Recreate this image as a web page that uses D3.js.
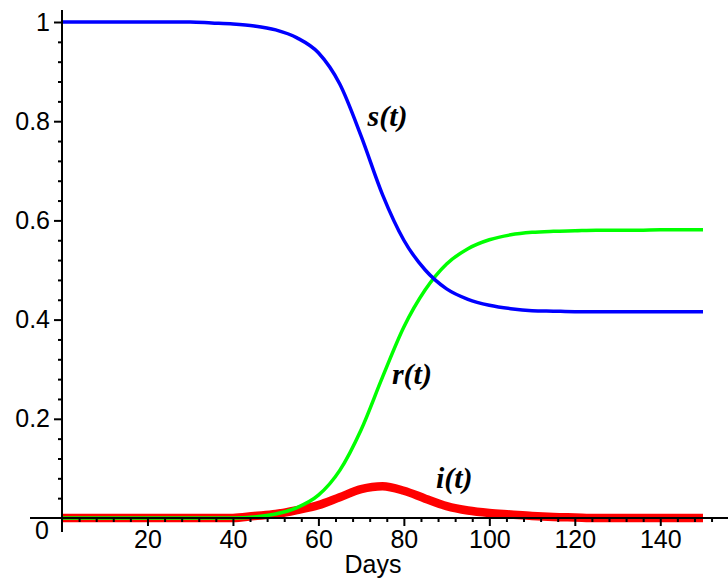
<!DOCTYPE html>
<html>
<head>
<meta charset="utf-8">
<script src="https://cdn.jsdelivr.net/npm/d3@7"></script>
<style>
  body { margin: 0; background: #fff; }
  .tick text { font-family: "Liberation Sans", Arial, sans-serif; font-size: 25px; fill: #000; }
  .curve-label { font-family: "Liberation Serif", "Times New Roman", serif; font-weight: bold; font-style: italic; font-size: 30px; }
</style>
</head>
<body>
<div id="chart"></div>
<script>
// SIR curves, one value every 5 days
const days = d3.range(0, 151, 5);
const sVals = [1, 1, 1, 1, 1, 1, 1, 0.998, 0.996, 0.992, 0.984, 0.968, 0.938, 0.875, 0.77, 0.652,
               0.56, 0.5, 0.462, 0.441, 0.429, 0.422, 0.418, 0.417, 0.416, 0.416, 0.416, 0.416, 0.416, 0.416, 0.416];
const rVals = [0, 0, 0, 0, 0, 0, 0, 0, 0, 0.002, 0.008, 0.021, 0.046, 0.096, 0.178, 0.284,
               0.385, 0.46, 0.512, 0.543, 0.561, 0.571, 0.576, 0.578, 0.579, 0.58, 0.58, 0.58, 0.581, 0.581, 0.581];
const iVals = [0, 0, 0, 0, 0, 0, 0, 0, 0, 0.004, 0.008, 0.016, 0.026, 0.042, 0.058, 0.064,
               0.055, 0.039, 0.024, 0.015, 0.01, 0.007, 0.004, 0.002, 0.001, 0, 0, 0, 0, 0, 0];

const xTicks = [20, 40, 60, 80, 100, 120, 140];
const yTicks = [0, 0.2, 0.4, 0.6, 0.8, 1];
const xLabel = "Days";
const labels = [
  {text: "s(t)", day: 71.5, val: 0.79},
  {text: "r(t)", day: 77.2, val: 0.27},
  {text: "i(t)", day: 87.5, val: 0.061}
];

const width = 728;
const height = 581;

const svg = d3.select("#chart").append("svg")
  .attr("width", width)
  .attr("height", height);

const x = d3.scaleLinear().domain([0, 150]).range([62, 703]);
const y = d3.scaleLinear().domain([0, 1]).range([518, 22]);

const line = vals => d3.line()
  .x((d, i) => x(days[i]))
  .y(d => y(d))
  .curve(d3.curveMonotoneX)(vals);

// curves
svg.append("path").attr("d", line(iVals))
  .attr("fill", "none").attr("stroke", "#ff0000").attr("stroke-width", 8.5);
svg.append("path").attr("d", line(rVals))
  .attr("fill", "none").attr("stroke", "#00ff00").attr("stroke-width", 3.5);
svg.append("path").attr("d", line(sVals))
  .attr("fill", "none").attr("stroke", "#0000ff").attr("stroke-width", 3.5);

// axis lines, a bit longer than the data range
svg.append("line")
  .attr("x1", 30).attr("x2", 728)
  .attr("y1", y(0)).attr("y2", y(0))
  .attr("stroke", "#000").attr("stroke-width", 2);
svg.append("line")
  .attr("x1", x(0)).attr("x2", x(0))
  .attr("y1", 10).attr("y2", 532)
  .attr("stroke", "#000").attr("stroke-width", 2);

// minor ticks
const xMinor = d3.range(4, 156, 4).filter(d => d % 20 !== 0);
const yMinor = d3.range(1, 25).map(d => d * 0.04).filter((d, i) => (i + 1) % 5 !== 0);

const xScaleWide = x.copy().domain([0, 160]).range([x(0), x(160)]);

svg.append("g")
  .attr("transform", `translate(0,${y(0)})`)
  .call(d3.axisBottom(xScaleWide).tickValues(xMinor).tickSize(4).tickFormat(""))
  .call(g => g.select(".domain").remove())
  .call(g => g.selectAll("line").attr("stroke-width", 2));

svg.append("g")
  .attr("transform", `translate(${x(0)},0)`)
  .call(d3.axisLeft(y).tickValues(yMinor).tickSize(4).tickFormat(""))
  .call(g => g.select(".domain").remove())
  .call(g => g.selectAll("line").attr("stroke-width", 2));

// major ticks
svg.append("g")
  .attr("transform", `translate(0,${y(0)})`)
  .call(d3.axisBottom(x).tickValues(xTicks).tickSize(8).tickPadding(4))
  .call(g => g.select(".domain").remove())
  .call(g => g.selectAll("line").attr("stroke-width", 2))
  .call(g => g.selectAll("text").attr("font-family", null).attr("font-size", null));

svg.append("g")
  .attr("transform", `translate(${x(0)},0)`)
  .call(d3.axisLeft(y).tickValues(yTicks).tickSize(8).tickPadding(4)
          .tickFormat(d => d === 0 ? "0" : d3.format("~g")(d)))
  .call(g => g.select(".domain").remove())
  .call(g => g.selectAll("line").attr("stroke-width", 2))
  .call(g => g.selectAll("line").filter(d => d === 0).remove())
  .call(g => g.selectAll("text").attr("font-family", null).attr("font-size", null))
  .call(g => g.selectAll("text").filter(d => d === 0).attr("dy", "0.8em").attr("x", -13));

// axis title
svg.append("text")
  .attr("x", 373).attr("y", 573)
  .attr("text-anchor", "middle")
  .attr("font-family", "Liberation Sans, Arial, sans-serif")
  .attr("font-size", 25)
  .text(xLabel);

// curve labels
svg.selectAll(".curve-label")
  .data(labels)
  .enter()
  .append("text")
    .attr("class", "curve-label")
    .attr("x", d => x(d.day))
    .attr("y", d => y(d.val))
    .text(d => d.text);
</script>
</body>
</html>
